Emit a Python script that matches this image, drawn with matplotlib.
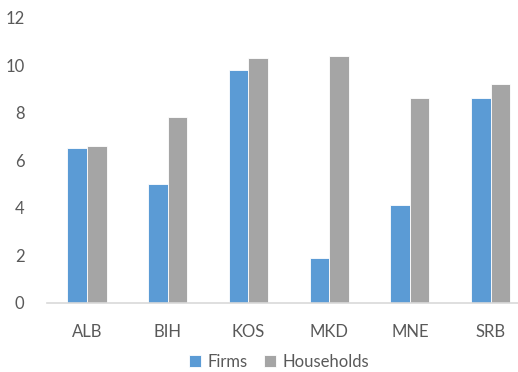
import matplotlib.pyplot as plt
import numpy as np

plt.rcParams['font.family'] = ['Lato', 'DejaVu Sans']

countries = ["ALB", "BIH", "KOS", "MKD", "MNE", "SRB"]
firms = [6.5, 5.0, 9.8, 1.9, 4.1, 8.6]
households = [6.6, 7.8, 10.3, 10.4, 8.6, 9.2]
yticks = [0, 2, 4, 6, 8, 10, 12]

blue = "#5B9BD5"
gray = "#A5A5A5"
text_col = "#595959"

fig = plt.figure(figsize=(5.18, 3.72), dpi=100)
ax = fig.add_axes([0.090, 0.1855, 0.910, 0.7675])

x = np.arange(len(countries))
w = 0.242
ax.bar(x - w / 2, firms, width=w, color=blue, edgecolor="white", linewidth=0.6, label="Firms")
ax.bar(x + w / 2, households, width=w, color=gray, edgecolor="white", linewidth=0.6, label="Households")

ax.set_xlim(-0.5, 5.34)
ax.set_ylim(0, 12)
ax.set_yticks(yticks)
ax.set_xticks(x)
ax.set_xticklabels(countries)

for s in ["top", "right", "left"]:
    ax.spines[s].set_visible(False)
ax.spines["bottom"].set_color("#D9D9D9")
ax.spines["bottom"].set_linewidth(1.2)
ax.tick_params(axis="both", length=0, labelsize=12, colors=text_col)
ax.tick_params(axis="y", pad=16)
ax.tick_params(axis="x", pad=15)

leg = ax.legend(loc="center", bbox_to_anchor=(0.493, -0.207), ncol=2, frameon=False,
                fontsize=12, handlelength=0.7, handleheight=0.7, handletextpad=0.4,
                columnspacing=1.0, borderpad=0)
for t in leg.get_texts():
    t.set_color(text_col)

fig.savefig("out.png", dpi=100)
